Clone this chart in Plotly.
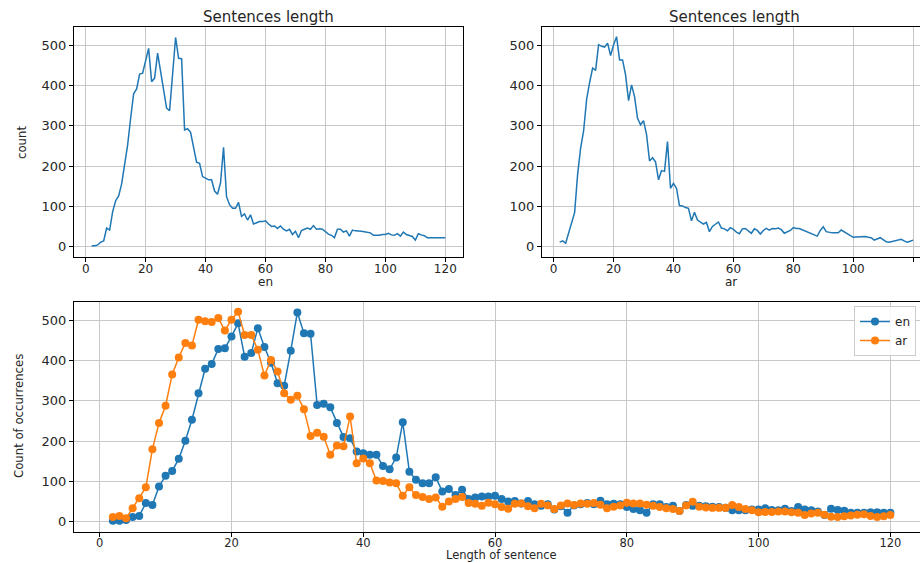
import plotly.graph_objects as go

lengths = list(range(2, 121))

en_counts = [
    2, 2, 4, 11, 14, 46, 41, 87, 114, 126, 156, 201, 253, 319, 380, 392, 429, 431, 460,
    493, 410, 419, 481, 434, 395, 344, 338, 425, 520, 468, 467, 290, 293, 284, 245, 210,
    207, 174, 170, 166, 166, 138, 130, 159, 247, 124, 104, 95, 95, 110, 75, 81, 66, 79,
    56, 60, 62, 62, 64, 56, 50, 51, 45, 51, 43, 39, 43, 30, 38, 22, 40, 43, 46, 43, 52,
    43, 44, 43, 36, 31, 28, 22, 43, 43, 36, 39, 26, 41, 39, 39, 38, 37, 36, 34, 28, 28,
    28, 30, 30, 33, 29, 28, 32, 26, 36, 30, 28, 25, 16, 32, 29, 27, 22, 22, 22, 23, 23,
    22, 22,
]

ar_counts = [
    11, 14, 8, 33, 58, 85, 180, 245, 288, 366, 408, 444, 438, 502, 498, 496, 506, 475,
    502, 522, 464, 464, 427, 363, 402, 373, 319, 303, 313, 279, 213, 221, 211, 166, 189,
    187, 261, 145, 157, 145, 102, 101, 97, 95, 64, 85, 66, 61, 56, 60, 37, 50, 56, 61,
    46, 44, 39, 47, 43, 36, 32, 44, 45, 38, 33, 44, 40, 31, 40, 45, 41, 45, 44, 46, 42,
    33, 37, 40, 47, 45, 45, 42, 39, 36, 33, 31, 26, 40, 49, 37, 35, 34, 34, 34, 41, 36,
    31, 28, 23, 24, 24, 25, 25, 23, 22, 16, 20, 22, 17, 12, 11, 13, 15, 17, 18, 14, 11,
    13, 16,
]

x_ticks = [0, 20, 40, 60, 80, 100, 120]
y_ticks = [0, 100, 200, 300, 400, 500]

BLUE = "#1f77b4"
ORANGE = "#ff7f0e"
FONT = "DejaVu Sans"
NARROW = "Liberation Sans Narrow, DejaVu Sans Condensed, DejaVu Sans"
TXT = "#262626"
W, H = 920, 563


def fx(px):
    return px / W


def fy(py):
    return 1 - py / H


fig = go.Figure()
fig.add_trace(go.Scatter(x=lengths, y=en_counts, mode="lines", line=dict(color=BLUE, width=1.5),
                         xaxis="x", yaxis="y", showlegend=False))
fig.add_trace(go.Scatter(x=lengths, y=ar_counts, mode="lines", line=dict(color=BLUE, width=1.5),
                         xaxis="x2", yaxis="y2", showlegend=False))
fig.add_trace(go.Scatter(x=lengths, y=en_counts, mode="lines+markers", name="en",
                         line=dict(color=BLUE, width=1.5), marker=dict(color=BLUE, size=8),
                         xaxis="x3", yaxis="y3"))
fig.add_trace(go.Scatter(x=lengths, y=ar_counts, mode="lines+markers", name="ar",
                         line=dict(color=ORANGE, width=1.5), marker=dict(color=ORANGE, size=8),
                         xaxis="x3", yaxis="y3"))

common = dict(showline=True, linecolor="black", linewidth=1, ticks="outside", ticklen=4,
              tickcolor="black", showgrid=True, gridcolor="#c8c8c8", gridwidth=1,
              zeroline=False, automargin=False)
xfont = dict(family=FONT, size=12, color=TXT)
xfont3 = dict(family=FONT, size=11.5, color=TXT)
yfont = dict(family=FONT, size=13, color=TXT)

fig.update_layout(
    width=W, height=H, margin=dict(l=0, r=0, t=0, b=0, autoexpand=False),
    plot_bgcolor="white", paper_bgcolor="white",
    font=dict(family=FONT, size=13, color=TXT),
    xaxis=dict(domain=[fx(74), fx(463)], range=[-3.9, 125.9], tickvals=x_ticks, anchor="y",
               mirror=True, ticklabelstandoff=-3, tickfont=xfont, **common),
    yaxis=dict(domain=[fy(257), fy(27)], range=[-26, 546], tickvals=y_ticks, anchor="x",
               mirror=True, tickfont=yfont, **common),
    xaxis2=dict(domain=[fx(542), 1.0], range=[-3.9, 122.3], tickvals=x_ticks, anchor="y2",
                mirror=True, ticklabelstandoff=-3, tickfont=xfont, **common),
    yaxis2=dict(domain=[fy(257), fy(27)], range=[-26, 546], tickvals=y_ticks, anchor="x2",
                mirror=False, tickfont=yfont, **common),
    xaxis3=dict(domain=[fx(74), 1.0], range=[-3.9, 124.5], tickvals=x_ticks, anchor="y3",
                mirror=True, ticklabelstandoff=-4, tickfont=xfont3, **common),
    yaxis3=dict(domain=[fy(532), fy(302)], range=[-26, 546], tickvals=y_ticks, anchor="x3",
                mirror=False, tickfont=yfont, **common),
    legend=dict(x=fx(916), y=fy(306), xanchor="right", yanchor="top",
                bgcolor="rgba(255,255,255,0.85)", bordercolor="#cccccc", borderwidth=1,
                font=dict(family=FONT, size=12, color=TXT), tracegroupgap=0,
                itemwidth=30),
    showlegend=True,
)

annots = [
    dict(text="Sentences length", x=fx(268), y=fy(17), size=15, family=FONT, ya="middle"),
    dict(text="Sentences length", x=fx(734), y=fy(17), size=15, family=FONT, ya="middle"),
    dict(text="en", x=fx(265), y=fy(291), size=12, family=FONT, ya="bottom"),
    dict(text="ar", x=fx(731), y=fy(291), size=12, family=FONT, ya="bottom"),
    dict(text="Length of sentence", x=fx(501), y=fy(564), size=11.5, family=FONT, ya="bottom"),
]
for a in annots:
    fig.add_annotation(text=a["text"], x=a["x"], y=a["y"], xref="paper", yref="paper",
                       showarrow=False, xanchor="center", yanchor=a["ya"],
                       font=dict(family=a["family"], size=a["size"], color=TXT))
fig.add_annotation(text="count", x=fx(21), y=fy(143), xref="paper", yref="paper",
                   showarrow=False, textangle=-90, xanchor="center", yanchor="middle",
                   font=dict(family=NARROW, size=13, color=TXT))
fig.add_annotation(text="Count of occurrences", x=fx(18), y=fy(416), xref="paper", yref="paper",
                   showarrow=False, textangle=-90, xanchor="center", yanchor="middle",
                   font=dict(family=NARROW, size=13, color=TXT))

fig.write_html("out.html", config={"displayModeBar": False},
               post_script="document.body.style.margin='0';")
